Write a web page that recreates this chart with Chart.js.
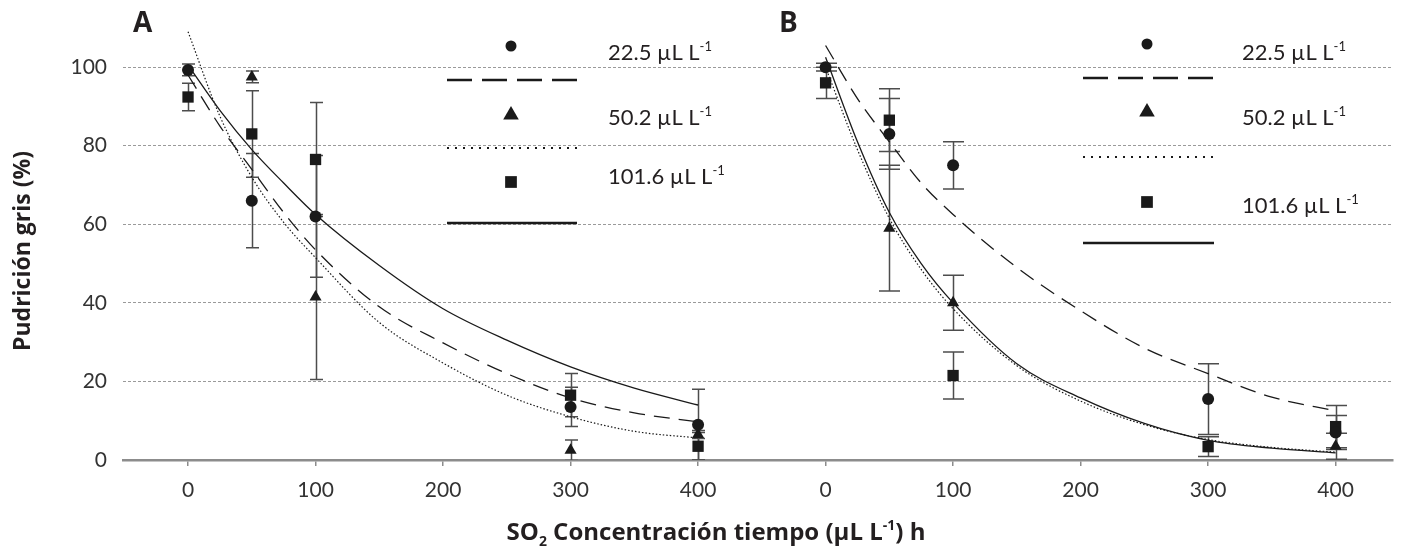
<!DOCTYPE html>
<html>
<head>
<meta charset="utf-8">
<script src="https://cdn.jsdelivr.net/npm/chart.js@4.4.1/dist/chart.umd.min.js"></script>
<style>
  html, body { margin: 0; padding: 0; background: #fff; }
  #wrap { width: 1401px; height: 549px; position: relative; }
</style>
</head>
<body>
<div id="wrap"><canvas id="chart"></canvas></div>
<script>
// ── Datos ─────────────────────────────────────────────────────────────────
const X_POINTS = [0, 50, 100, 300, 400];

// Panel A
const A_225 = [99.3, 66, 62, 13.5, 9];
const A_225_ERR = [1.5, 12, 15.5, 5, 9];
const A_502 = [null, 97.5, 41.5, 2.5, 6.5];
const A_502_ERR = [0, 1.5, 21, 2.6, 1];
const A_1016 = [92.4, 83, 76.5, 16.5, 3.5];
const A_1016_ERR = [3.5, 11, 14.5, 5.5, 3.5];

// Panel B
const B_225 = [100, 83, 75, 15.5, 7];
const B_225_ERR = [1, 9, 6, 9, 4.3];
const B_502 = [null, 59, 40, null, 3.5];
const B_502_ERR = [0, 16, 7, 0, 3.3];
const B_1016 = [96, 86.5, 21.5, 3.4, 8.5];
const B_1016_ERR = [4, 8, 6, 2.5, 5.4];

// Curvas ajustadas (leídas punto a punto)
const CURVE_X = [0, 25, 50, 75, 100, 150, 200, 250, 300, 350, 400];
const A_FIT_225 = [98, 85, 74, 63, 53.5, 39, 29.8, 22, 15.8, 12, 9.7];
const A_FIT_502 = [109, 87.5, 72, 60.5, 51.5, 35, 24.7, 16.5, 11, 7.3, 5.6];
const A_FIT_1016 = [100.5, 89, 79, 70.5, 62.5, 49.5, 38.5, 30.5, 23.7, 18.3, 14];
const B_FIT_225 = [105.5, 92, 81, 70.5, 62.5, 49, 38, 28.5, 22, 16, 12.5];
const B_FIT_502 = [100, 79, 61.5, 48.5, 38.5, 24, 15, 9, 5.2, 3.2, 2];
const B_FIT_1016 = [102.5, 81, 63, 50, 40, 24.5, 15.8, 9.3, 5, 3, 1.8];

const X_TICKS = [0, 100, 200, 300, 400];
const Y_TICKS = [0, 20, 40, 60, 80, 100];
const SERIES_LABELS = ['22.5', '50.2', '101.6'];
const PANEL_LABELS = ['A', 'B'];
const Y_TITLE = 'Pudrición gris (%)';

// ── Estilo ────────────────────────────────────────────────────────────────
const B_OFFSET = 500;           // el panel B se dibuja a continuación del A
const INK = '#1a1a1a';
const FONT = 'Lato, "Open Sans", sans-serif';
const TITLE_FONT = '"Open Sans", Lato, sans-serif';
const STYLES = [
  { point: 'circle', radius: 6, legendRadius: 5.5, dash: [16, 9], legendDash: [25, 10] },
  { point: 'triangle', radius: 7, legendRadius: 9, dash: [1.5, 2], legendDash: [2, 6] },
  { point: 'rect', radius: 8, legendRadius: 8.3, dash: [], legendDash: [] },
];

const toPoints = (xs, ys, off) =>
  xs.map((x, i) => (ys[i] == null ? null : { x: x + off, y: ys[i] })).filter(Boolean);

const PANEL_DATA = [
  { off: 0, cap: 6.5, values: [A_225, A_502, A_1016], errs: [A_225_ERR, A_502_ERR, A_1016_ERR], fits: [A_FIT_225, A_FIT_502, A_FIT_1016] },
  { off: B_OFFSET, cap: 10.5, values: [B_225, B_502, B_1016], errs: [B_225_ERR, B_502_ERR, B_1016_ERR], fits: [B_FIT_225, B_FIT_502, B_FIT_1016] },
];

const datasets = [];
SERIES_LABELS.forEach((lab, s) => {
  datasets.push({
    label: lab,
    data: toPoints(X_POINTS, PANEL_DATA[0].values[s], 0).concat(toPoints(X_POINTS, PANEL_DATA[1].values[s], B_OFFSET)),
    pointStyle: STYLES[s].point,
    pointRadius: STYLES[s].radius,
    backgroundColor: INK,
    borderColor: INK,
    borderWidth: 0,
    showLine: false,
    order: 0,
  });
});
PANEL_DATA.forEach(p => {
  p.fits.forEach((fit, s) => {
    datasets.push({
      label: 'fit ' + SERIES_LABELS[s],
      data: toPoints(CURVE_X, fit, p.off),
      showLine: true,
      pointRadius: 0,
      borderColor: INK,
      borderWidth: s === 1 ? 1.2 : 1.3,
      borderDash: STYLES[s].dash,
      cubicInterpolationMode: 'monotone',
      order: 1,
    });
  });
});

// ── Helpers de dibujo ─────────────────────────────────────────────────────
// parts: [texto, tamaño, peso, desplazamiento vertical, familia]
function drawRich(ctx, parts, x, y, align) {
  ctx.save();
  ctx.textBaseline = 'alphabetic';
  ctx.textAlign = 'left';
  const fontOf = ([, size, weight, , fam]) => `${weight} ${size}px ${fam || FONT}`;
  const widths = parts.map(p => {
    ctx.font = fontOf(p);
    return ctx.measureText(p[0]).width;
  });
  const total = widths.reduce((a, b) => a + b, 0);
  let cx = align === 'center' ? x - total / 2 : x;
  parts.forEach((p, i) => {
    ctx.font = fontOf(p);
    ctx.fillText(p[0], cx, y + p[3]);
    cx += widths[i];
  });
  ctx.restore();
}

function drawMarker(ctx, style, x, y, r) {
  ctx.save();
  ctx.fillStyle = INK;
  ctx.beginPath();
  if (style === 'circle') {
    ctx.arc(x, y, r, 0, Math.PI * 2);
  } else if (style === 'triangle') {
    const h = r * 1.5;
    ctx.moveTo(x, y - r);
    ctx.lineTo(x + r * 0.866, y - r + h);
    ctx.lineTo(x - r * 0.866, y - r + h);
    ctx.closePath();
  } else {
    const a = r * Math.SQRT1_2;
    ctx.rect(x - a, y - a, 2 * a, 2 * a);
  }
  ctx.fill();
  ctx.restore();
}

// Barras de error, debajo de los marcadores
const errorBars = {
  id: 'errorBars',
  beforeDatasetsDraw(chart) {
    const { ctx, scales: { x, y }, chartArea } = chart;
    ctx.save();
    ctx.beginPath();
    ctx.rect(chartArea.left, chartArea.top, chartArea.right - chartArea.left, chartArea.bottom - chartArea.top);
    ctx.clip();
    ctx.strokeStyle = '#4d4d4d';
    ctx.lineWidth = 1.5;
    PANEL_DATA.forEach(p => {
      p.values.forEach((vals, s) => {
        vals.forEach((v, j) => {
          if (v == null) return;
          const e = p.errs[s][j];
          if (!e) return;
          const px = Math.round(x.getPixelForValue(X_POINTS[j] + p.off)) + 0.5;
          const top = y.getPixelForValue(v + e);
          const bot = y.getPixelForValue(v - e);
          ctx.beginPath();
          ctx.moveTo(px, top); ctx.lineTo(px, bot);
          ctx.moveTo(px - p.cap, top); ctx.lineTo(px + p.cap, top);
          ctx.moveTo(px - p.cap, bot); ctx.lineTo(px + p.cap, bot);
          ctx.stroke();
        });
      });
    });
    ctx.restore();
  },
};

// Leyendas internas, títulos y letras de panel
const LEGEND_LAYOUT = [
  { markerX: 511, lineX0: 447, lineX1: 577, textX: 608, markerY: [46, 115, 182], lineY: [80, 148, 223], textY: [60, 125, 184] },
  { markerX: 1147, lineX0: 1083, lineX1: 1214, textX: 1242, markerY: [44, 112, 202], lineY: [78, 157, 243], textY: [60, 125, 213] },
];
const PANEL_LABEL_POS = [[133, 32], [779, 32]];

const annotations = {
  id: 'annotations',
  afterDraw(chart) {
    const { ctx } = chart;
    ctx.save();
    ctx.fillStyle = '#231f20';

    LEGEND_LAYOUT.forEach(L => {
      SERIES_LABELS.forEach((lab, s) => {
        drawMarker(ctx, STYLES[s].point, L.markerX, L.markerY[s], STYLES[s].legendRadius);
        ctx.save();
        ctx.strokeStyle = INK;
        ctx.lineWidth = s === 1 ? 2 : 2.6;
        ctx.setLineDash(STYLES[s].legendDash);
        ctx.beginPath();
        ctx.moveTo(L.lineX0, L.lineY[s]);
        ctx.lineTo(L.lineX1, L.lineY[s]);
        ctx.stroke();
        ctx.restore();
        drawRich(ctx, [[lab + ' µL L', 22, 400, 0], ['-1', 13, 400, -9]], L.textX, L.textY[s], 'left');
      });
    });

    PANEL_LABELS.forEach((t, i) => {
      drawRich(ctx, [[t, 28, 700, 0, TITLE_FONT]], PANEL_LABEL_POS[i][0], PANEL_LABEL_POS[i][1], 'left');
    });

    drawRich(ctx, [
      ['SO', 24, 700, 0, TITLE_FONT], ['2', 14, 700, 6, TITLE_FONT],
      [' Concentración tiempo (µL L', 24, 700, 0, TITLE_FONT], ['-1', 14, 700, -10, TITLE_FONT],
      [') h', 24, 700, 0, TITLE_FONT],
    ], 716, 540, 'center');

    ctx.save();
    ctx.translate(30, 251);
    ctx.rotate(-Math.PI / 2);
    drawRich(ctx, [[Y_TITLE, 23, 700, 0, TITLE_FONT]], 0, 0, 'center');
    ctx.restore();

    ctx.restore();
  },
};

new Chart(document.getElementById('chart'), {
  type: 'scatter',
  data: { datasets },
  plugins: [errorBars, annotations],
  options: {
    animation: false,
    responsive: true,
    maintainAspectRatio: false,
    layout: { padding: { top: 20, right: 0, left: 0, bottom: 0 } },
    plugins: { legend: { display: false }, tooltip: { enabled: false } },
    scales: {
      x: {
        type: 'linear',
        min: -51,
        max: 945,
        afterBuildTicks: s => {
          s.ticks = X_TICKS.map(v => ({ value: v })).concat(X_TICKS.map(v => ({ value: v + B_OFFSET })));
        },
        afterFit: s => { s.height = 89; s.paddingLeft = 0; s.paddingRight = 0; },
        ticks: {
          autoSkip: false,
          maxRotation: 0,
          padding: 12,
          color: '#333',
          font: { family: FONT, size: 21 },
          callback: v => (v >= B_OFFSET ? v - B_OFFSET : v),
        },
        grid: { drawOnChartArea: false, tickLength: 6, color: '#8c8c8c', lineWidth: 1.5 },
        border: { color: '#8c8c8c', width: 2.5 },
      },
      y: {
        min: 0,
        max: 112,
        afterBuildTicks: s => { s.ticks = Y_TICKS.map(v => ({ value: v })); },
        afterFit: s => { s.width = 123; s.paddingTop = 0; s.paddingBottom = 0; },
        ticks: {
          padding: 16,
          color: '#333',
          font: { family: FONT, size: 21 },
        },
        grid: {
          drawTicks: false,
          lineWidth: 1,
          color: c => (c.tick && c.tick.value === 0 ? 'rgba(0,0,0,0)' : '#9a9a9a'),
        },
        border: { display: false, dash: [3, 2] },
      },
    },
  },
});
</script>
</body>
</html>
